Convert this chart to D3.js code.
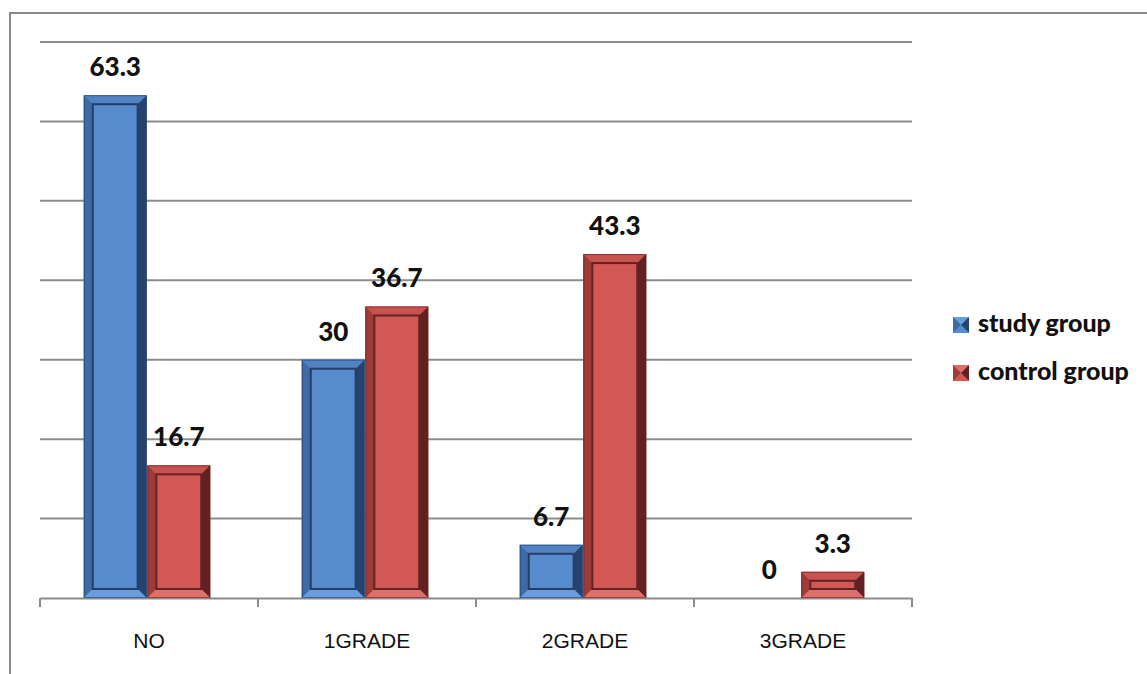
<!DOCTYPE html>
<html><head><meta charset="utf-8">
<script src="https://cdn.jsdelivr.net/npm/d3@7"></script>
<style>body{margin:0;background:#fff}svg{display:block}</style>
</head><body>
<svg id="c" width="1147" height="674"></svg>
<script>
const categories = ["NO", "1GRADE", "2GRADE", "3GRADE"];
const seriesNames = ["study group", "control group"];
const studyGroup = [63.3, 30, 6.7, 0];
const controlGroup = [16.7, 36.7, 43.3, 3.3];
const yTicks = [0, 10, 20, 30, 40, 50, 60, 70];

const palettes = [
  {face:"rgb(86,139,206)", top:"rgb(80,130,196)", left:"rgb(62,106,165)", right:"rgb(38,66,110)", bottom:"rgb(104,158,222)", line:"rgb(36,62,104)"},
  {face:"rgb(209,88,85)", top:"rgb(200,82,79)", left:"rgb(158,58,56)", right:"rgb(98,32,32)", bottom:"rgb(222,112,108)", line:"rgb(100,34,34)"}
];

const svg = d3.select("#c");
const L = 40, R = 912, T = 42, B = 598;
const x0 = d3.scaleBand().domain(categories).range([L, R]).paddingInner(0).paddingOuter(0);
const x1 = d3.scaleBand().domain([0,1]).range([0, x0.bandwidth()]).paddingInner(0.01).paddingOuter(0.72);
const y = d3.scaleLinear().domain([0, 70]).range([B, T]);

// outer border
svg.append("path").attr("d", `M10,674 L10,13 L1147,13`).attr("fill","none").attr("stroke","#888").attr("stroke-width",2);

// gridlines
svg.append("g").selectAll("line").data(yTicks.slice(1)).join("line")
  .attr("x1", L).attr("x2", R).attr("y1", d=>y(d)).attr("y2", d=>y(d))
  .attr("stroke","#8c8c8c").attr("stroke-width",2);

// x axis
const xAxis = d3.axisBottom(x0).tickSize(0).tickSizeOuter(0);
const gx = svg.append("g").attr("transform",`translate(0,${B})`).call(xAxis);
gx.attr("font-size",null).attr("font-family",null);
gx.select(".domain").attr("stroke","#8c8c8c").attr("stroke-width",2);
gx.selectAll("text").attr("font-family","Liberation Sans, Arial, sans-serif").attr("font-size",21).attr("fill","#111").attr("dy",0).attr("y",50);
const tickX = categories.map(c=>x0(c)).concat([R]);
svg.append("g").selectAll("line").data(tickX).join("line")
  .attr("x1",d=>d).attr("x2",d=>d).attr("y1",B).attr("y2",B+9).attr("stroke","#8c8c8c").attr("stroke-width",2);

// bars
const data = [];
categories.forEach((c,i)=>{
  [studyGroup, controlGroup].forEach((s,k)=>data.push({c, k, v:s[i]}));
});
const bw = x1.bandwidth();
const shift = -2;
const gb = svg.append("g");
data.forEach(d=>{
  if (d.v <= 0) return;
  const p = palettes[d.k];
  const xa = x0(d.c) + x1(d.k) + shift, xb = xa + bw;
  const ya = y(d.v), yb = y(0);
  const h = yb - ya;
  const bv = Math.min(9, h/2 - 1, bw/2 - 1);
  const g = gb.append("g");
  g.append("rect").attr("x",xa).attr("y",ya).attr("width",bw).attr("height",h).attr("fill",p.face);
  const poly = (pts, fill) => g.append("polygon").attr("points", pts.map(q=>q.join(",")).join(" ")).attr("fill", fill);
  poly([[xa,ya],[xb,ya],[xb-bv,ya+bv],[xa+bv,ya+bv]], p.top);
  poly([[xa,ya],[xa+bv,ya+bv],[xa+bv,yb-bv],[xa,yb]], p.left);
  poly([[xb,ya],[xb,yb],[xb-bv,yb-bv],[xb-bv,ya+bv]], p.right);
  poly([[xa,yb],[xa+bv,yb-bv],[xb-bv,yb-bv],[xb,yb]], p.bottom);
  g.append("rect").attr("x",xa+bv).attr("y",ya+bv).attr("width",bw-2*bv).attr("height",Math.max(0,h-2*bv))
    .attr("fill",p.face).attr("stroke",p.line).attr("stroke-width",2);
  g.append("rect").attr("x",xa+0.5).attr("y",ya+0.5).attr("width",bw-1).attr("height",h-1)
    .attr("fill","none").attr("stroke",p.line).attr("stroke-width",1).attr("stroke-opacity",0.6);
});

// value labels
svg.append("g").selectAll("text").data(data).join("text")
  .attr("x", d=>x0(d.c)+x1(d.k)+shift+bw/2)
  .attr("y", d=>y(d.v)-19)
  .attr("text-anchor","middle")
  .attr("font-family","Lato, 'Open Sans', sans-serif").attr("font-weight",900).attr("font-size",26).attr("fill","#111")
  .text(d=>d.v);

// legend
const lg = svg.append("g");
seriesNames.forEach((n,k)=>{
  const p = palettes[k];
  const yy = 317 + k*48;
  const s = 16, xs = 953;
  lg.append("rect").attr("x",xs).attr("y",yy).attr("width",s).attr("height",s).attr("fill",p.face);
  lg.append("polygon").attr("points",`${xs},${yy} ${xs+s},${yy} ${xs+s/2},${yy+s/2}`).attr("fill",p.bottom);
  lg.append("polygon").attr("points",`${xs},${yy} ${xs},${yy+s} ${xs+s/2},${yy+s/2}`).attr("fill",p.left);
  lg.append("polygon").attr("points",`${xs+s},${yy} ${xs+s},${yy+s} ${xs+s/2},${yy+s/2}`).attr("fill",p.right);
  lg.append("polygon").attr("points",`${xs},${yy+s} ${xs+s},${yy+s} ${xs+s/2},${yy+s/2}`).attr("fill",p.face);
  lg.append("text").attr("x",978).attr("y",yy+15).attr("font-family","Lato, 'Open Sans', sans-serif")
    .attr("font-weight",900).attr("font-size",25).attr("fill","#111").text(n);
});
</script>
</body></html>
